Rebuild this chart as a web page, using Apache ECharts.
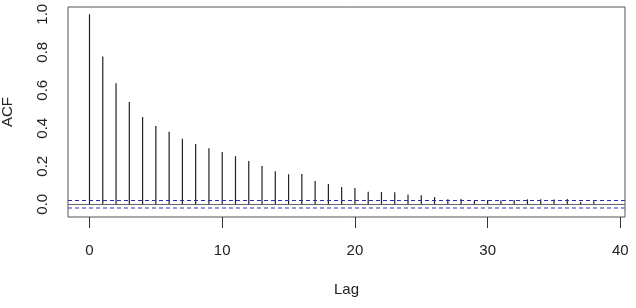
<!DOCTYPE html>
<html>
<head>
<meta charset="utf-8">
<script src="https://cdn.jsdelivr.net/npm/echarts@6/dist/echarts.min.js"></script>
<style>
  html, body { margin: 0; padding: 0; background: #fff; }
  #chart { width: 636px; height: 308px; }
</style>
</head>
<body>
<div id="chart"></div>
<script>
// ACF values for lags 0..40
const lags = [0, 1, 2, 3, 4, 5, 6, 7, 8, 9, 10, 11, 12, 13, 14, 15, 16, 17, 18, 19, 20,
  21, 22, 23, 24, 25, 26, 27, 28, 29, 30, 31, 32, 33, 34, 35, 36, 37, 38, 39, 40]
const acf = [1.0, 0.777, 0.637, 0.538, 0.459, 0.412, 0.381, 0.345, 0.317, 0.295, 0.275,
  0.253, 0.228, 0.202, 0.174, 0.158, 0.159, 0.123, 0.107, 0.091, 0.086,
  0.066, 0.065, 0.063, 0.051, 0.047, 0.038, 0.026, 0.028, 0.019, 0.023,
  0.021, 0.023, 0.026, 0.026, 0.025, 0.028, 0.012, 0.016, -0.004, 0.001]
const xTicks = [0, 10, 20, 30, 40]
const yTicks = [0.0, 0.2, 0.4, 0.6, 0.8, 1.0]
const ciUpper = 0.021
const ciLower = -0.017

const textStyle = {
  fontFamily: 'Liberation Sans',
  fontSize: 15,
  color: '#222'
}

const chart = echarts.init(document.getElementById('chart'))

const option = {
  animation: false,
  grid: {
    left: 68,
    top: 7,
    width: 557,
    height: 210,
    outerBoundsMode: 'none',
    containLabel: false,
    show: true,
    borderColor: '#555',
    borderWidth: 1
  },
  xAxis: {
    type: 'value',
    min: -1.62,
    max: 40.35,
    name: 'Lag',
    nameLocation: 'middle',
    nameGap: 73,
    nameTextStyle: Object.assign({}, textStyle, { verticalAlign: 'middle' }),
    axisLine: { show: false, onZero: false },
    splitLine: { show: false },
    axisTick: {
      show: true,
      length: 11,
      customValues: xTicks,
      lineStyle: { color: '#333' }
    },
    axisLabel: Object.assign({}, textStyle, {
      customValues: xTicks,
      margin: 26
    })
  },
  yAxis: {
    type: 'value',
    min: -0.067,
    max: 1.038,
    name: 'ACF',
    nameLocation: 'middle',
    nameRotate: 90,
    nameGap: 53,
    nameTextStyle: textStyle,
    axisLine: { show: false, onZero: false },
    splitLine: { show: false },
    axisTick: { show: false, customValues: yTicks },
    axisLabel: Object.assign({}, textStyle, {
      customValues: yTicks,
      rotate: 90,
      margin: 18,
      formatter: v => v.toFixed(1)
    })
  },
  series: [
    {
      type: 'custom',
      data: lags.map((l, i) => [l, acf[i]]),
      renderItem: (params, api) => {
        const p0 = api.coord([api.value(0), 0])
        const p1 = api.coord([api.value(0), api.value(1)])
        return {
          type: 'line',
          shape: { x1: p0[0], y1: p0[1], x2: p1[0], y2: p1[1] },
          style: { stroke: '#222', lineWidth: 1.2 }
        }
      },
      markLine: {
        silent: true,
        symbol: 'none',
        label: { show: false },
        data: [
          { yAxis: 0, lineStyle: { color: '#666', type: 'solid', width: 1 } },
          { yAxis: ciUpper, lineStyle: { color: '#2b2bb0', type: [4, 3], width: 1 } },
          { yAxis: ciLower, lineStyle: { color: '#7777cc', type: [4, 3], width: 1.5 } }
        ]
      }
    }
  ]
}

chart.setOption(option)
</script>
</body>
</html>
